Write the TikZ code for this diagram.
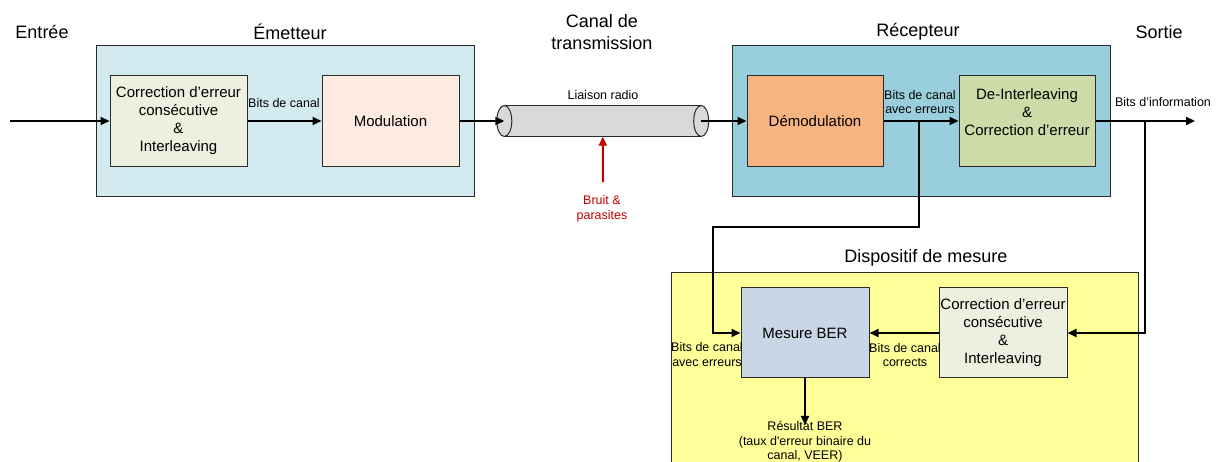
\documentclass[tikz,border=0pt]{standalone}
\usepackage{fontspec}
\setmainfont{Liberation Sans}
\usetikzlibrary{arrows.meta}
\definecolor{emetfill}{HTML}{D2EAF0}
\definecolor{recfill}{HTML}{99CFDC}
\definecolor{fecfill}{HTML}{EBF1DE}
\definecolor{modfill}{HTML}{FDEBE1}
\definecolor{demfill}{HTML}{F8B480}
\definecolor{deifill}{HTML}{CCDBA8}
\definecolor{yelfill}{HTML}{FFFF99}
\definecolor{berfill}{HTML}{C8D6E6}
\definecolor{cylfill}{HTML}{D9D9D9}
\definecolor{noise}{HTML}{C00000}
\definecolor{edge}{HTML}{2A2A2A}
\tikzset{
  group/.style={draw=edge, line width=1pt, minimum width=#1, inner sep=0pt},
  block/.style={draw=edge, line width=1pt, inner sep=0pt, align=center,
    font=\fontsize{15}{18}\selectfont, minimum width=137pt, minimum height=91pt},
  title/.style={font=\fontsize{18}{22}\selectfont, align=center, inner sep=0pt},
  lbl/.style={font=\fontsize{12.5}{14.5}\selectfont, align=center, inner sep=0pt},
  arr/.style={line width=2pt, -{Triangle[length=9pt,width=8pt]}},
}
\begin{document}
\begin{tikzpicture}[x=1pt,y=-1pt]
\useasboundingbox (0,0) rectangle (1219,462);
\clip (0,0) rectangle (1219,462);
% group boxes
\node[group=378pt, minimum height=151pt, fill=emetfill] (emet) at (285,121.5) {};
\node[group=378pt, minimum height=151pt, fill=recfill] (recep) at (921,121.5) {};
\node[group=467pt, minimum height=214pt, fill=yelfill] (mes) at (904.5,380) {};
% titles
\node[title] (tin) at (42,32) {Entrée};
\node[title] (temet) at (290,32) {Émetteur};
\node[title] (tcanal) at (602,32) {Canal de\\transmission};
\node[title] (trecep) at (918,32) {Récepteur};
\node[title] (tout) at (1159,32) {Sortie};
\node[title] (tmes) at (926,258) {Dispositif de mesure};
% blocks
\node[block, fill=fecfill] (fec1) at (178.5,121) {Correction d’erreur\\consécutive\\\&\\Interleaving};
\node[block, fill=modfill] (mod) at (390.5,121) {Modulation};
\node[block, fill=demfill, minimum width=136pt] (demod) at (815,121) {Démodulation};
\node[block, fill=deifill, minimum width=136pt] (deint) at (1027,121) {De-Interleaving\\\&\\Correction d’erreur\\\mbox{}};
\node[block, fill=berfill, minimum width=128pt, minimum height=90pt] (ber) at (805,333) {Mesure BER};
\node[block, fill=fecfill, minimum width=128pt, minimum height=90pt] (fec2) at (1003,333) {Correction d’erreur\\consécutive\\\&\\Interleaving};
% cylinder
\node[minimum width=196.5pt, minimum height=31pt, inner sep=0pt] (cyl) at (602.75,121) {};
\fill[cylfill] (cyl.north west) rectangle (cyl.south east);
\draw[edge, line width=1pt] (cyl.north west) -- (cyl.north east);
\draw[edge, line width=1pt] (cyl.south west) -- (cyl.south east);
\draw[edge, line width=1pt, fill=cylfill] (cyl.west) ellipse [x radius=7.5pt, y radius=15.5pt];
\draw[edge, line width=1pt, fill=cylfill] (cyl.east) ellipse [x radius=7.5pt, y radius=15.5pt];
% labels
\node[lbl, anchor=west] (l1) at (248,103) {Bits de canal};
\node[lbl] (l2) at (603,95) {Liaison radio};
\node[lbl] (l3) at (920,102) {Bits de canal\\avec erreurs};
\node[lbl] (l4) at (1163,102) {Bits d’information};
\node[lbl, text=noise] (l5) at (602,209) {Bruit \&\\parasites};
\node[lbl] (l6) at (707,354.5) {Bits de canal\\avec erreurs};
\node[lbl] (l7) at (905,355) {Bits de canal\\corrects};
\node[lbl, anchor=north] (l8) at (805,421.5) {Résultat BER\\(taux d\textquotesingle erreur binaire du\\canal, VEER)};
% connectors
\coordinate (in) at (10,121);
\coordinate (out) at (1195,121);
\coordinate (j1) at (919,121);
\coordinate (j2) at (1145,121);
\coordinate (bend) at (713,227);
\coordinate (res) at (805,425);
\coordinate (nsrc) at (603,182);
\draw[arr] (in) -- (fec1.west);
\draw[arr] (fec1) -- (mod);
\draw[arr] (mod.east) -- (cyl.west);
\draw[arr] (cyl.east) -- (demod.west);
\draw[arr] (demod) -- (deint);
\draw[arr] (deint.east) -- (out);
\draw[arr] (j1) |- (bend) |- (ber.west);
\draw[arr] (j2) |- (fec2.east);
\draw[arr] (fec2) -- (ber);
\draw[arr] (ber.south) -- (res);
\draw[arr, draw=noise, -{Triangle[length=9pt,width=8pt,fill=noise]}] (nsrc) -- (cyl.south);
\end{tikzpicture}
\end{document}
